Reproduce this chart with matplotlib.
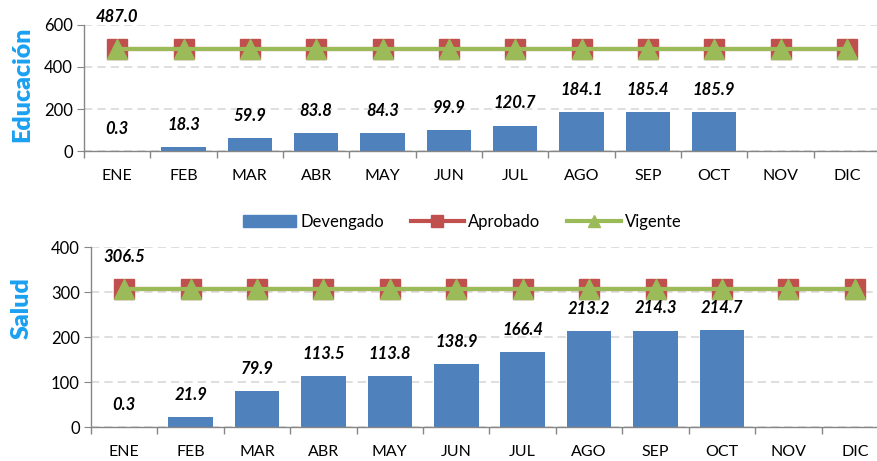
import matplotlib
matplotlib.use("Agg")
import matplotlib.pyplot as plt
import numpy as np
from matplotlib.patches import Patch
from matplotlib.lines import Line2D

plt.rcParams['font.family'] = ['Lato', 'DejaVu Sans']

months = ["ENE", "FEB", "MAR", "ABR", "MAY", "JUN", "JUL", "AGO", "SEP", "OCT", "NOV", "DIC"]

edu_devengado = [0.3, 18.3, 59.9, 83.8, 84.3, 99.9, 120.7, 184.1, 185.4, 185.9, None, None]
edu_aprobado = [487.0] * 12
edu_vigente = [487.0] * 12

sal_devengado = [0.3, 21.9, 79.9, 113.5, 113.8, 138.9, 166.4, 213.2, 214.3, 214.7, None, None]
sal_aprobado = [306.5] * 12
sal_vigente = [306.5] * 12

BAR = '#4F81BD'
RED = '#C0504D'
GREEN = '#9BBB59'
LABEL_BLUE = '#1BA1F2'
GRID = '#D9D9D9'
SPINE = '#868686'

fig = plt.figure(figsize=(8.77, 4.61), dpi=100)

def draw(ax, dev, apr, vig, ymax, ystep, ylabel, ylabel_x, ylabel_y):
    x = np.arange(len(months))
    vals = [np.nan if v is None else v for v in dev]
    ax.bar(x, vals, width=0.67, color=BAR, zorder=2)
    ax.plot(x, apr, color=RED, lw=3, marker='s', markersize=14, zorder=3)
    ax.plot(x, vig, color=GREEN, lw=3, marker='^', markersize=15, zorder=4)
    for xi, v in zip(x, dev):
        if v is None:
            continue
        ax.annotate(f"{v:.1f}", (xi, v), xytext=(0, 16), textcoords='offset points',
                    ha='center', va='center', fontsize=12, fontweight='bold',
                    fontstyle='italic', color='black', zorder=5)
    ax.annotate(f"{vig[0]:.1f}", (0, vig[0]), xytext=(0, 23), textcoords='offset points',
                ha='center', va='center', fontsize=12, fontweight='bold',
                fontstyle='italic', color='black', zorder=5, annotation_clip=False)
    ax.set_xlim(-0.5, 11.5)
    ax.set_ylim(0, ymax)
    ax.set_yticks(np.arange(0, ymax + 1, ystep))
    ax.yaxis.grid(True, color=GRID, linestyle=(0, (5, 3)), lw=1.2, zorder=0)
    ax.set_axisbelow(True)
    ax.set_xticks(x)
    ax.set_xticklabels(months, fontsize=11.5)
    ax.set_xticks(np.arange(-0.5, 12, 1), minor=True)
    ax.tick_params(axis='x', which='major', length=0, pad=13)
    ax.tick_params(axis='x', which='minor', length=5, color=SPINE, width=1)
    ax.tick_params(axis='y', length=5, color=SPINE, labelsize=12, pad=3)
    for s in ['top', 'right']:
        ax.spines[s].set_visible(False)
    for s in ['left', 'bottom']:
        ax.spines[s].set_color(SPINE)
        ax.spines[s].set_linewidth(1)
    ax.set_ylabel(ylabel, fontsize=18, fontweight='heavy', color=LABEL_BLUE)
    ax.yaxis.set_label_coords(ylabel_x, ylabel_y)

ax1 = fig.add_axes([84/877, 1 - 151/461, 796/877, 126/461])
draw(ax1, edu_devengado, edu_aprobado, edu_vigente, 600, 200, "Educación",
     -(84 - 33) / 796, (151 - 84) / 126)

ax2 = fig.add_axes([91/877, 1 - 427/461, 797/877, 180/461])
draw(ax2, sal_devengado, sal_aprobado, sal_vigente, 400, 100, "Salud",
     -(91 - 33) / 797, (427 - 308) / 180)

handles = [Patch(facecolor=BAR, edgecolor=BAR),
           Line2D([], [], color=RED, lw=3, marker='s', markersize=8),
           Line2D([], [], color=GREEN, lw=3, marker='^', markersize=8)]
fig.legend(handles, ["Devengado", "Aprobado", "Vigente"], loc='center',
           bbox_to_anchor=(0.527, 1 - 222/461), ncol=3, frameon=False,
           fontsize=12, handlelength=3.2, handletextpad=0.25, columnspacing=1.6,
           handleheight=0.7)

fig.savefig("out.png", dpi=100)
